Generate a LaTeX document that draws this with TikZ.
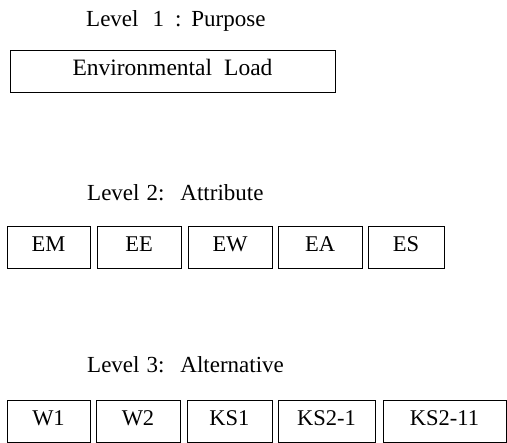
\documentclass[tikz,border=0pt]{standalone}
\usepackage{fontspec}
\setmainfont{Liberation Serif}
\begin{document}
\begin{tikzpicture}[x=1pt,y=-1pt,
  box/.style={draw=black,line width=0.8pt,inner sep=0pt,text height=15pt,text depth=6pt,minimum height=42pt,font=\fontsize{22.5}{26}\selectfont},
  title/.style={anchor=base west,inner sep=0pt,font=\fontsize{23}{27}\selectfont}]
\useasboundingbox (0,0) rectangle (507,443);
% Level 1
\node[title] (t1) at (86,27) {Level\hspace{14pt}1\hspace{11pt}:\hspace{10pt}Purpose};
\node[box,minimum width=325pt,font=\fontsize{23.5}{27}\selectfont] (env) at (172.5,71) {Environmental\hspace{12pt}Load};
% Level 2
\node[title] (t2) at (87,201) {Level\hspace{7pt}2:\hspace{16pt}Attribute};
\node[box,minimum width=83pt] (em) at (48.5,247) {EM};
\node[box,minimum width=84pt] (ee) at (139,247) {EE};
\node[box,minimum width=84pt] (ew) at (230,247) {EW};
\node[box,minimum width=84pt] (ea) at (320,247) {EA};
\node[box,minimum width=76pt] (es) at (406,247) {ES};
% Level 3
\node[title] (t3) at (87,373) {Level\hspace{7pt}3:\hspace{16pt}Alternative};
\node[box,minimum width=83pt] (w1) at (48.5,421) {W1};
\node[box,minimum width=84pt] (w2) at (138,421) {W2};
\node[box,minimum width=85pt] (ks1) at (229.5,421) {KS1};
\node[box,minimum width=97pt] (ks21) at (326.5,421) {KS2-1};
\node[box,minimum width=123pt] (ks211) at (444.5,421) {KS2-11};
\end{tikzpicture}
\end{document}
